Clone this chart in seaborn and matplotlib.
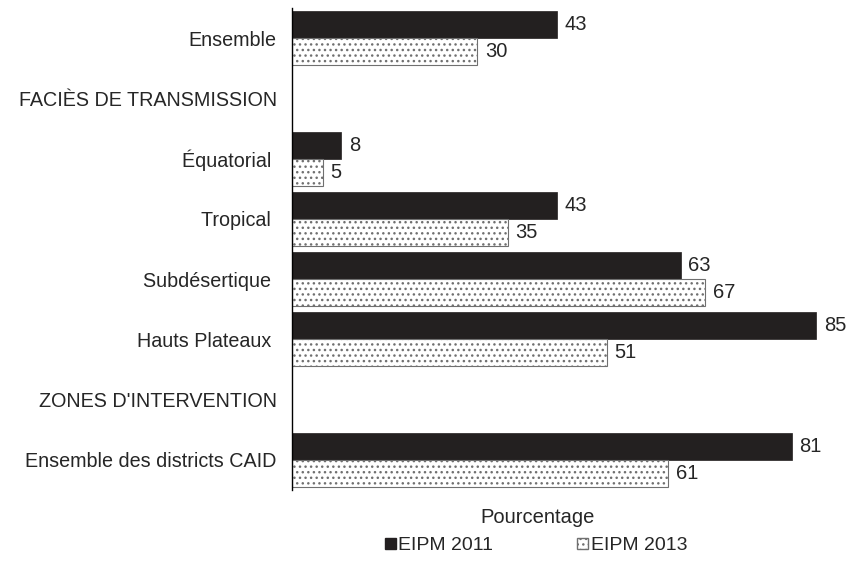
import pandas as pd
import numpy as np
import matplotlib.pyplot as plt
import seaborn as sns
from matplotlib.patches import Patch

# Data
categories = ["Ensemble", "FACIÈS DE TRANSMISSION", "Équatorial ", "Tropical ",
              "Subdésertique ", "Hauts Plateaux ", "ZONES D'INTERVENTION",
              "Ensemble des districts CAID"]
v2011 = [43, None, 8, 43, 63, 85, None, 81]
v2013 = [30, None, 5, 35, 67, 51, None, 61]
years = ["EIPM 2011", "EIPM 2013"]

rows = []
for c, a, b in zip(categories, v2011, v2013):
    if a is not None:
        rows.append((c, years[0], a))
    if b is not None:
        rows.append((c, years[1], b))
df = pd.DataFrame(rows, columns=["cat", "year", "value"])

sns.set_style("white")
plt.rcParams['font.family'] = ['Liberation Sans', 'DejaVu Sans']

fig = plt.figure(figsize=(8.51, 5.61), dpi=100)
ax = fig.add_axes([292 / 851, 1 - 490 / 561, 543 / 851, 482 / 561])

dark = "#231f20"
sns.barplot(data=df, x="value", y="cat", hue="year", order=categories,
            hue_order=years, palette=[dark, "white"], width=0.9,
            orient="h", errorbar=None, legend=False, ax=ax)

# black bars and dotted bars
for p in ax.containers[0]:
    p.set_edgecolor(dark)
    p.set_linewidth(0.5)
for p in ax.containers[1]:
    p.set_facecolor("white")
    p.set_edgecolor("#707070")
    p.set_hatch("...")
    p.set_linewidth(0.8)

for cont in ax.containers:
    ax.bar_label(cont, fmt="%g", padding=5.5, fontsize=14.5, clip_on=False)

ax.set_xlim(0, 88)
ax.set_ylim(7.5, -0.5)
ax.set_xticks([])
ax.set_ylabel("")
ax.set_xlabel("Pourcentage", fontsize=14.5)
ax.xaxis.set_label_coords(0.453, -0.037)
ax.tick_params(axis="y", length=0, pad=11, labelsize=14.2)
for s in ["top", "right", "bottom"]:
    ax.spines[s].set_visible(False)
ax.spines["left"].set_color("black")
ax.spines["left"].set_linewidth(1)

handles = [Patch(facecolor=dark, edgecolor=dark),
           Patch(facecolor="white", edgecolor="#707070", hatch="...")]
fig.legend(handles, years, loc="center", bbox_to_anchor=(536 / 851, 1 - 546 / 561),
           ncol=2, frameon=False, fontsize=14, handlelength=0.55, handleheight=0.55,
           handletextpad=0.15, columnspacing=4.3)

fig.savefig("out.png", dpi=100)
